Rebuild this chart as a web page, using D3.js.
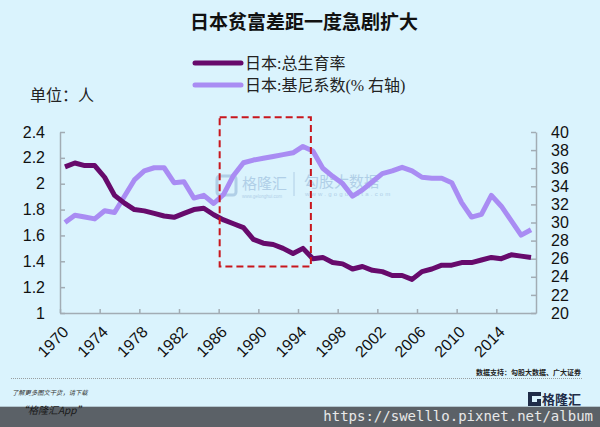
<!DOCTYPE html>
<html>
<head>
<meta charset="utf-8">
<script src="https://cdn.jsdelivr.net/npm/d3@7"></script>
<style>
html,body{margin:0;padding:0;background:#daf3fd;}
svg{display:block;}
</style>
</head>
<body>
<svg id="chart" width="600" height="427"></svg>
<script>
const years = [1970,1971,1972,1973,1974,1975,1976,1977,1978,1979,
  1980,1981,1982,1983,1984,1985,1986,1987,1988,1989,
  1990,1991,1992,1993,1994,1995,1996,1997,1998,1999,
  2000,2001,2002,2003,2004,2005,2006,2007,2008,2009,
  2010,2011,2012,2013,2014,2015,2016,2017];
const fertility = [2.13,2.16,2.14,2.14,2.05,1.91,1.85,1.80,1.79,1.77,
  1.75,1.74,1.77,1.80,1.81,1.76,1.72,1.69,1.66,1.57,
  1.54,1.53,1.50,1.46,1.50,1.42,1.43,1.39,1.38,1.34,
  1.36,1.33,1.32,1.29,1.29,1.26,1.32,1.34,1.37,1.37,
  1.39,1.39,1.41,1.43,1.42,1.45,1.44,1.43];
const gini = [30.0,30.8,30.6,30.4,31.3,31.1,32.9,34.7,35.7,36.05,
  36.05,34.4,34.5,32.7,33.0,32.1,33.1,35.2,36.6,36.9,
  37.1,37.3,37.5,37.7,38.4,37.9,36.0,35.1,34.3,32.9,
  33.6,34.5,35.4,35.7,36.1,35.7,35.0,34.9,34.9,34.4,
  32.2,30.6,30.9,33.0,31.8,30.2,28.6,29.2];
const xTickYears = [1970,1974,1978,1982,1986,1990,1994,1998,2002,2006,2010,2014];
const leftTicks = [1,1.2,1.4,1.6,1.8,2,2.2,2.4];
const rightTicks = [20,22,24,26,28,30,32,34,36,38,40];
const seriesNames = ["日本:总生育率","日本:基尼系数(% 右轴)"];
const titleText = "日本贫富差距一度急剧扩大";
const unitText = "单位：人";
const highlight = {from:1986, to:1995, low:1.36, high:2.515};

const C_DARK = "#670a6c", C_LIGHT = "#a98cf3", AXIS = "#a2acb4";
const svg = d3.select("#chart");
svg.append("rect").attr("width",600).attr("height",427).attr("fill","#daf3fd");

const L = 60, R = 536, T = 132, B = 313;
const x = d3.scaleBand().domain(years).range([L,R]).padding(0);
const xl = d3.scaleLinear().domain([1970,2018]).range([L,R]);
const yL = d3.scaleLinear().domain([1,2.4]).range([B,T]);
const yR = d3.scaleLinear().domain([20,40]).range([B,T]);
const cx = d => x(d) + x.bandwidth()/2;

// title
svg.append("text").attr("x",304).attr("y",29).attr("text-anchor","middle")
  .attr("font-family","'Noto Sans CJK SC', sans-serif").attr("font-weight","bold")
  .attr("font-size",19).attr("fill","#111").text(titleText);

// unit
svg.append("text").attr("x",30).attr("y",101)
  .attr("font-family","'Noto Sans CJK SC', sans-serif").attr("font-size",16)
  .attr("fill","#222").text(unitText);

// legend
const legend = svg.append("g");
[[C_DARK,63],[C_LIGHT,85]].forEach((c,i)=>{
  legend.append("line").attr("x1",195).attr("x2",241).attr("y1",c[1]).attr("y2",c[1])
    .attr("stroke",c[0]).attr("stroke-width",5).attr("stroke-linecap","round");
  legend.append("text").attr("x",245).attr("y",c[1]+6)
    .attr("font-family","'Liberation Serif','Noto Sans CJK SC', serif").attr("font-size",16)
    .attr("fill","#222").text(seriesNames[i]);
});

// watermarks
const wm = svg.append("g").attr("opacity",0.55).attr("fill","#8fb2d6");
wm.append("rect").attr("x",217).attr("y",176).attr("width",19).attr("height",19).attr("rx",3)
  .attr("fill","none").attr("stroke","#8fb2d6").attr("stroke-width",3);
wm.append("text").attr("x",242).attr("y",188.5).attr("font-family","'Noto Sans CJK SC'")
  .attr("font-size",15).text("格隆汇");
wm.append("text").attr("x",242).attr("y",197.5).attr("font-family","Liberation Sans")
  .attr("font-size",4.5).text("www.gelonghui.com");
wm.append("line").attr("x1",294).attr("x2",294).attr("y1",172).attr("y2",196)
  .attr("stroke","#8fb2d6").attr("stroke-width",1);
wm.append("text").attr("x",304).attr("y",187).attr("font-family","'Noto Sans CJK SC'")
  .attr("font-size",15).text("勾股大数据");
wm.append("text").attr("x",305).attr("y",196).attr("font-family","Liberation Sans")
  .attr("font-size",6).attr("letter-spacing",2.2).text("www.gogudata.com");

// axes
const axL = d3.axisLeft(yL).tickValues(leftTicks).tickSizeInner(-5).tickSizeOuter(0)
  .tickPadding(15).tickFormat(d3.format("~g"));
const gL = svg.append("g").attr("transform",`translate(${L},0)`).call(axL);
const axR = d3.axisRight(yR).tickValues(rightTicks).tickSizeInner(-5).tickSizeOuter(0)
  .tickPadding(15).tickFormat(d3.format("d"));
const gR = svg.append("g").attr("transform",`translate(${R},0)`).call(axR);
const axB = d3.axisBottom(xl).tickValues(xTickYears).tickSizeInner(-4).tickSizeOuter(0)
  .tickFormat(d3.format("d"));
const gB = svg.append("g").attr("transform",`translate(0,${B})`).call(axB);
[gL,gR,gB].forEach(g=>{
  g.selectAll(".domain").attr("stroke",AXIS).attr("stroke-width",1.5);
  g.selectAll(".tick line").attr("stroke",AXIS).attr("stroke-width",1.5);
  g.selectAll("text").attr("font-family","'Liberation Sans', Arial, sans-serif")
    .attr("font-size",16).attr("fill","#111");
});
gB.selectAll(".tick text").attr("x",0).attr("y",0).attr("dy",0)
  .attr("text-anchor","end").attr("transform","translate(9,20) rotate(-45)");

// lines
const lineL = d3.line().x((d,i)=>cx(years[i])).y(d=>yL(d));
const lineR = d3.line().x((d,i)=>cx(years[i])).y(d=>yR(d));
svg.append("path").datum(gini).attr("d",lineR).attr("fill","none")
  .attr("stroke",C_LIGHT).attr("stroke-width",5).attr("stroke-linejoin","round");
svg.append("path").datum(fertility).attr("d",lineL).attr("fill","none")
  .attr("stroke",C_DARK).attr("stroke-width",5).attr("stroke-linejoin","round");

// highlight box
const hx0 = x(highlight.from)+1, hx1 = cx(highlight.to)-2;
svg.append("rect").attr("x",hx0).attr("y",yL(highlight.high))
  .attr("width",hx1-hx0).attr("height",yL(highlight.low)-yL(highlight.high))
  .attr("fill","none").attr("stroke","#c8161d").attr("stroke-width",2)
  .attr("stroke-dasharray","7,4");

// footer
svg.append("text").attr("x",581).attr("y",375).attr("text-anchor","end")
  .attr("font-family","'Noto Sans CJK SC'").attr("font-weight","bold").attr("font-size",7)
  .attr("fill","#222").text("数据支持：勾股大数据、广大证券");
svg.append("line").attr("x1",11).attr("x2",583).attr("y1",378.5).attr("y2",378.5)
  .attr("stroke","#888").attr("stroke-width",0.8).attr("stroke-dasharray","1,1");
svg.append("text").attr("x",12).attr("y",395)
  .attr("font-family","'Noto Sans CJK SC'").attr("font-style","italic").attr("font-size",6.3)
  .attr("fill","#333").text("了解更多图文干货，请下载");
// logo
svg.append("path").attr("d","M528,392 h13 v4 h-9 v6 h5 v-3 h4 v7 h-13 z").attr("fill","#1f2c48");
svg.append("text").attr("x",542).attr("y",404).attr("font-family","'Noto Sans CJK SC'")
  .attr("font-weight","bold").attr("font-size",13).attr("fill","#1f2c48").text("格隆汇");
svg.append("rect").attr("x",0).attr("y",406.7).attr("width",600).attr("height",21).attr("fill","#5b6167");
svg.append("text").attr("x",18).attr("y",414)
  .attr("font-family","'Noto Sans CJK SC'").attr("font-style","italic").attr("font-size",10)
  .attr("fill","#1a1a1a").text("“格隆汇App”");
svg.append("text").attr("x",593).attr("y",421).attr("text-anchor","end")
  .attr("font-family","'DejaVu Sans Mono', monospace").attr("font-size",14)
  .attr("fill","#e8e8e8").text("https://swelllo.pixnet.net/album");
</script>
</body>
</html>
